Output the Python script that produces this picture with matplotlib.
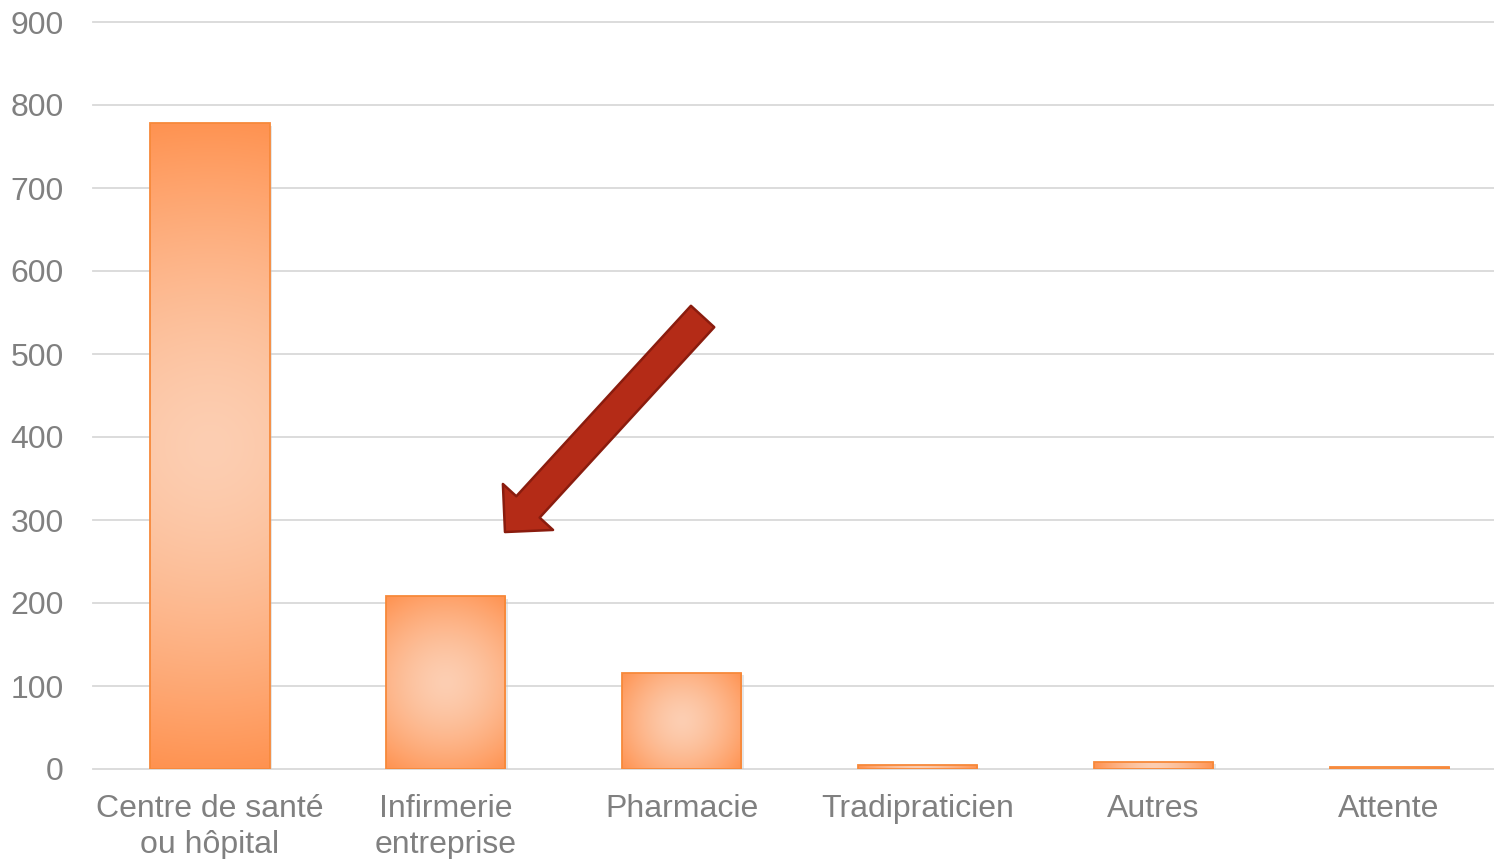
import numpy as np
import matplotlib
matplotlib.use("Agg")
import matplotlib.pyplot as plt
from matplotlib import patheffects as pe

categories = ["Centre de santé\nou hôpital", "Infirmerie\nentreprise", "Pharmacie",
              "Tradipraticien", "Autres", "Attente"]
values = [778, 208, 116, 5, 9, 3]
y_ticks = [0, 100, 200, 300, 400, 500, 600, 700, 800, 900]

edge_rgb = np.array([255, 146, 80]) / 255.0
center_rgb = np.array([252, 206, 178]) / 255.0

plt.rcParams['font.family'] = ['Liberation Sans', 'DejaVu Sans']

fig = plt.figure(figsize=(14.94, 8.59), dpi=100)
ax = fig.add_axes([93 / 1494, 90 / 859, 1401 / 1494, 747 / 859])
ax.set_xlim(-0.496, 5.445)
ax.set_ylim(0, 900)

for s in ax.spines.values():
    s.set_visible(False)
ax.set_yticks(y_ticks)
ax.yaxis.grid(True, color='#D9D9D9', linewidth=1.3)
ax.set_axisbelow(True)
ax.tick_params(axis='both', length=0, labelsize=23, colors='#808080')
ax.tick_params(axis='y', pad=21)
ax.tick_params(axis='x', pad=18)
ax.set_xticks(range(len(categories)))
ax.set_xticklabels(categories, linespacing=1.26)
for gl in ax.get_ygridlines():
    gl.set_clip_on(False)

x = np.arange(len(categories))
# soft shadow below bars
shadows = ax.bar(x, values, width=0.505, facecolor='none', edgecolor='none', zorder=2.2)
for sb in shadows:
    sb.set_path_effects([pe.SimplePatchShadow(offset=(2, -2), shadow_rgbFace='#C8C8C8', alpha=0.45)])

bars = ax.bar(x, values, width=0.505, facecolor='none', edgecolor='#F7893A',
              linewidth=1.3, zorder=3)

fig.canvas.draw()
p0 = ax.transData.transform((0, 0))
p1 = ax.transData.transform((1, 100))
sx = (p1[0] - p0[0])
sy = (p1[1] - p0[1]) / 100.0

for b in bars:
    x0, y0 = b.get_x(), b.get_y()
    w, h = b.get_width(), b.get_height()
    wp, hp = w * sx, max(h * sy, 1)
    nx, ny = 120, max(int(hp), 4)
    u = np.linspace(-wp / 2, wp / 2, nx)
    v = np.linspace(-hp / 2, hp / 2, ny)
    U, V = np.meshgrid(u, v)
    R = np.sqrt((wp / 2) ** 2 + (hp / 2) ** 2)
    t = np.clip(np.sqrt(U ** 2 + V ** 2) / R, 0, 1) ** 1.5
    img = center_rgb[None, None, :] * (1 - t[..., None]) + edge_rgb[None, None, :] * t[..., None]
    im = ax.imshow(img, extent=(x0, x0 + w, y0, y0 + h), origin='lower',
                   aspect='auto', zorder=2.5, interpolation='bilinear')
    im.set_clip_path(b)

ax.set_xlim(-0.496, 5.445)
ax.set_ylim(0, 900)

# Red arrow annotation pointing to "Infirmerie entreprise"
ax.annotate("", xy=(1.251, 285.5), xytext=(2.089, 545.2),
            arrowprops=dict(arrowstyle="simple,head_length=1.0,head_width=2.0,tail_width=0.93",
                            mutation_scale=24.5, facecolor='#B42B17', edgecolor='#8A1C0E',
                            linewidth=1.8, shrinkA=0, shrinkB=0),
            zorder=5)

fig.savefig("out.png", dpi=100)
